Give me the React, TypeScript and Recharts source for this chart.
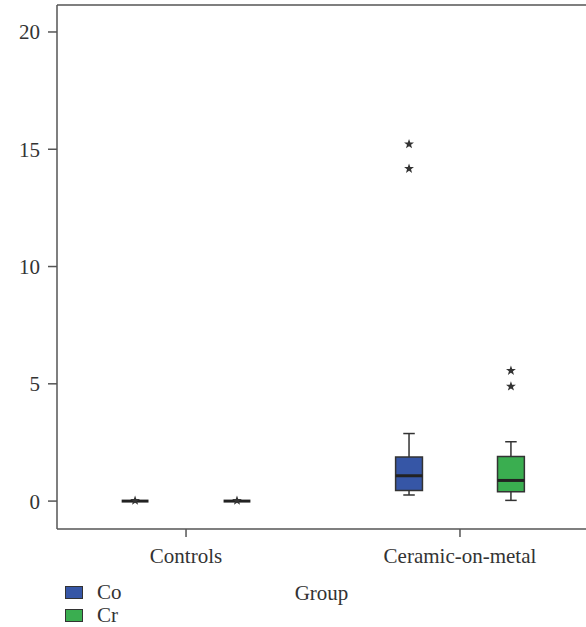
import {
  ComposedChart,
  XAxis,
  YAxis,
  Scatter,
  ReferenceArea,
  ReferenceLine,
} from "recharts";

// Categories and series
const groups = ["Controls", "Ceramic-on-metal"];
const series = ["Co", "Cr"];
const seriesColors = ["#3656a6", "#3aae50"];

// Box statistics per group, per series: [whiskerLow, q1, median, q3, whiskerHigh]
const coBoxes = [
  [0, 0, 0, 0, 0],
  [0.26, 0.45, 1.08, 1.88, 2.88],
];
const crBoxes = [
  [0, 0, 0, 0, 0],
  [0.03, 0.4, 0.88, 1.9, 2.53],
];

// Outliers (group index, value)
const coOutliers = [
  { group: 0, value: 0.02 },
  { group: 1, value: 15.22 },
  { group: 1, value: 14.17 },
];
const crOutliers = [
  { group: 0, value: 0.02 },
  { group: 1, value: 5.56 },
  { group: 1, value: 4.89 },
];

const yTicks = [0, 5, 10, 15, 20];
const yDomain = [-1.19, 21.15];
const xDomain = [0.529, 2.46];

const FONT = "Liberation Serif, serif";
const INK = "#333";
const AXIS = "#555";

const seriesOffset = 0.186;
const boxHalf = 0.049;
const capHalf = 0.021;

const Star = (props: any) => {
  const { cx, cy } = props;
  if (cx == null || cy == null) return null;
  const pts: string[] = [];
  for (let i = 0; i < 10; i++) {
    const r = i % 2 === 0 ? 5.2 : 2.1;
    const a = -Math.PI / 2 + (i * Math.PI) / 5;
    pts.push(`${cx + r * Math.cos(a)},${cy + r * Math.sin(a)}`);
  }
  return <polygon points={pts.join(" ")} fill={INK} />;
};

function renderBox(stats: number[], x: number, color: string, key: string) {
  const [lo, q1, med, q3, hi] = stats;
  const els = [];
  if (hi > lo) {
    els.push(
      <ReferenceLine key={`${key}-wl`} segment={[{ x, y: lo }, { x, y: q1 }]} stroke={INK} strokeWidth={1.5} />,
      <ReferenceLine key={`${key}-wh`} segment={[{ x, y: q3 }, { x, y: hi }]} stroke={INK} strokeWidth={1.5} />,
      <ReferenceLine key={`${key}-cl`} segment={[{ x: x - capHalf, y: lo }, { x: x + capHalf, y: lo }]} stroke={INK} strokeWidth={1.5} />,
      <ReferenceLine key={`${key}-ch`} segment={[{ x: x - capHalf, y: hi }, { x: x + capHalf, y: hi }]} stroke={INK} strokeWidth={1.5} />
    );
  }
  if (q3 > q1) {
    els.push(
      <ReferenceArea
        key={`${key}-box`}
        x1={x - boxHalf}
        x2={x + boxHalf}
        y1={q1}
        y2={q3}
        fill={color}
        fillOpacity={1}
        stroke={INK}
        strokeWidth={1.5}
      />
    );
  }
  els.push(
    <ReferenceLine
      key={`${key}-med`}
      segment={[{ x: x - boxHalf, y: med }, { x: x + boxHalf, y: med }]}
      stroke="#222"
      strokeWidth={3}
    />
  );
  return els;
}

export default function App() {
  const coPts = coOutliers.map((o) => ({ x: o.group + 1 - seriesOffset, y: o.value }));
  const crPts = crOutliers.map((o) => ({ x: o.group + 1 + seriesOffset, y: o.value }));

  return (
    <div style={{ position: "absolute", left: 0, top: 0, width: 586, height: 627, background: "#fff", fontFamily: FONT }}>
      <ComposedChart width={586} height={627} margin={{ top: 5, right: 0, left: 0, bottom: 0 }} style={{ fontFamily: FONT }}>
        <XAxis
          dataKey="x"
          type="number"
          domain={xDomain}
          ticks={[1, 2]}
          allowDataOverflow
          tickFormatter={(v: number) => groups[Math.round(v) - 1]}
          height={98}
          tickSize={8}
          tickMargin={11}
          stroke={AXIS}
          strokeWidth={1.5}
          tick={{ fill: INK, fontSize: 21, fontFamily: FONT }}
          label={{ value: "Group", position: "insideBottom", offset: 27, fill: INK, fontSize: 21, fontFamily: FONT }}
        />
        <YAxis
          type="number"
          domain={yDomain}
          ticks={yTicks}
          allowDataOverflow
          width={57}
          tickSize={9}
          tickMargin={8}
          stroke={AXIS}
          strokeWidth={1.5}
          tick={{ fill: INK, fontSize: 21, fontFamily: FONT }}
        />
        <ReferenceLine y={yDomain[1]} stroke={AXIS} strokeWidth={1.5} />
        {groups.map((_, gi) => renderBox(coBoxes[gi], gi + 1 - seriesOffset, seriesColors[0], `co-${gi}`))}
        {groups.map((_, gi) => renderBox(crBoxes[gi], gi + 1 + seriesOffset, seriesColors[1], `cr-${gi}`))}
        <Scatter data={coPts} dataKey="y" shape={<Star />} isAnimationActive={false} />
        <Scatter data={crPts} dataKey="y" shape={<Star />} isAnimationActive={false} />
      </ComposedChart>
      <div style={{ position: "absolute", left: 65, top: 581, fontSize: 21, color: INK, lineHeight: "23px" }}>
        {series.map((s, i) => (
          <div key={s} style={{ display: "flex", alignItems: "center" }}>
            <div style={{ width: 16, height: 11, background: seriesColors[i], border: `1.5px solid ${INK}`, marginRight: 14 }} />
            {s}
          </div>
        ))}
      </div>
    </div>
  );
}
